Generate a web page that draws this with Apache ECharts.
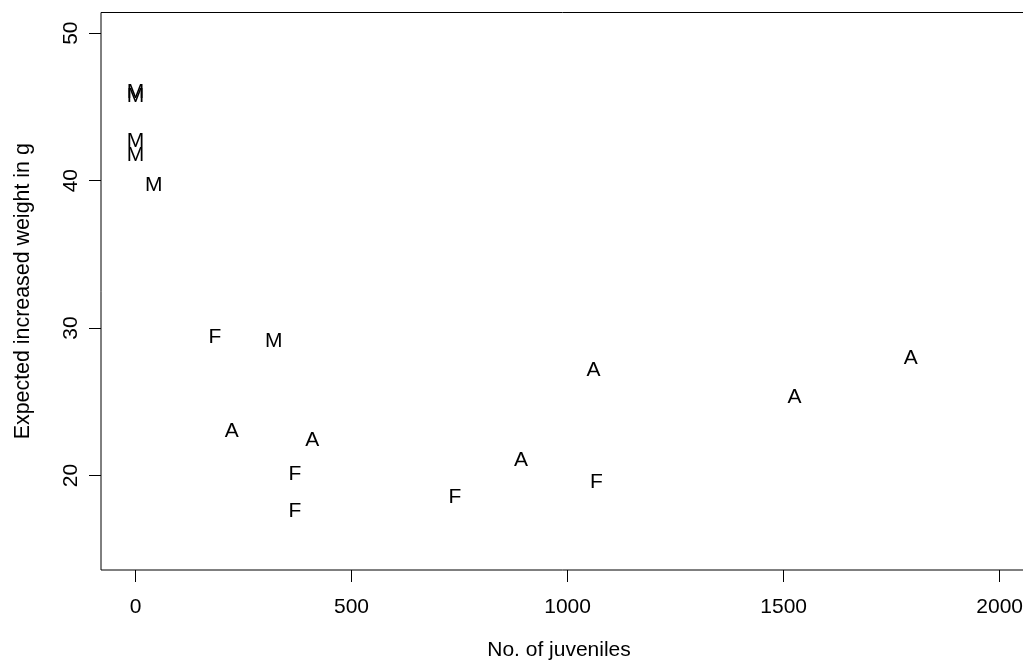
<!DOCTYPE html>
<html>
<head>
<meta charset="utf-8">
<script src="https://cdn.jsdelivr.net/npm/echarts@6/dist/echarts.min.js"></script>
<style>
html,body{margin:0;padding:0;background:#fff;}
#chart{width:1023px;height:661px;}
</style>
</head>
<body>
<div id="chart"></div>
<script>
// Data (x = no. of juveniles, y = expected increased weight in g)
const mX = [0, 0, 0, 0, 42, 320];
const mY = [46.07, 45.80, 42.72, 41.78, 39.78, 29.19];
const fX = [184, 369, 369, 739, 1067];
const fY = [29.48, 20.16, 17.65, 18.62, 19.64];
const aX = [223, 409, 892, 1060, 1525, 1794];
const aY = [23.10, 22.45, 21.14, 27.19, 25.36, 28.00];
const xTicks = [0, 500, 1000, 1500, 2000];
const yTicks = [20, 30, 40, 50];
const xTitle = 'No. of juveniles';
const yTitle = 'Expected increased weight in g';

const FONT = '"Liberation Sans", Arial, sans-serif';

function pairs(xs, ys) { return xs.map((x, i) => [x, ys[i]]); }

function letterSeries(name, letter, xs, ys) {
  return {
    name: name,
    type: 'scatter',
    data: pairs(xs, ys),
    symbol: 'circle',
    symbolSize: 0,
    itemStyle: { color: '#000', opacity: 1 },
    silent: true,
    label: {
      show: true,
      position: 'inside',
      formatter: letter,
      color: '#000',
      opacity: 1,
      textBorderWidth: 0,
      textBorderColor: 'transparent',
      fontFamily: FONT,
      fontSize: 21,
      align: 'center',
      verticalAlign: 'middle',
      offset: [0, 1]
    },
    emphasis: { disabled: true }
  };
}

const chart = echarts.init(document.getElementById('chart'), null, { renderer: 'canvas' });
chart.setOption({
  animation: false,
  backgroundColor: '#fff',
  grid: {
    left: 101, top: 12.5, width: 931, height: 557.5,
    outerBoundsMode: 'none',
    containLabel: false,
    show: true, borderColor: '#000', borderWidth: 1, backgroundColor: 'transparent'
  },
  xAxis: {
    type: 'value',
    min: -79.8, max: 2074.8,
    axisLine: { show: false, onZero: false },
    splitLine: { show: false },
    axisTick: { show: true, length: 12, inside: false, customValues: xTicks, lineStyle: { color: '#000', width: 1 } },
    axisLabel: { show: true, customValues: xTicks, formatter: v => String(v), margin: 27, color: '#000', fontFamily: FONT, fontSize: 21 },
    name: xTitle,
    nameLocation: 'middle',
    nameGap: 70,
    nameTextStyle: { color: '#000', fontFamily: FONT, fontSize: 21, padding: [0, 15, 0, 0] }
  },
  yAxis: {
    type: 'value',
    min: 13.6, max: 51.4,
    axisLine: { show: false, onZero: false },
    splitLine: { show: false },
    axisTick: { show: true, length: 12, inside: false, customValues: yTicks, lineStyle: { color: '#000', width: 1 } },
    axisLabel: { show: true, customValues: yTicks, formatter: v => String(v), rotate: 90, margin: 19, color: '#000', fontFamily: FONT, fontSize: 21 },
    name: yTitle,
    nameLocation: 'middle',
    nameGap: 67,
    nameRotate: 90,
    nameTextStyle: { color: '#000', fontFamily: FONT, fontSize: 21.4 }
  },
  series: [
    letterSeries('M', 'M', mX, mY),
    letterSeries('F', 'F', fX, fY),
    letterSeries('A', 'A', aX, aY)
  ]
});
</script>
</body>
</html>
